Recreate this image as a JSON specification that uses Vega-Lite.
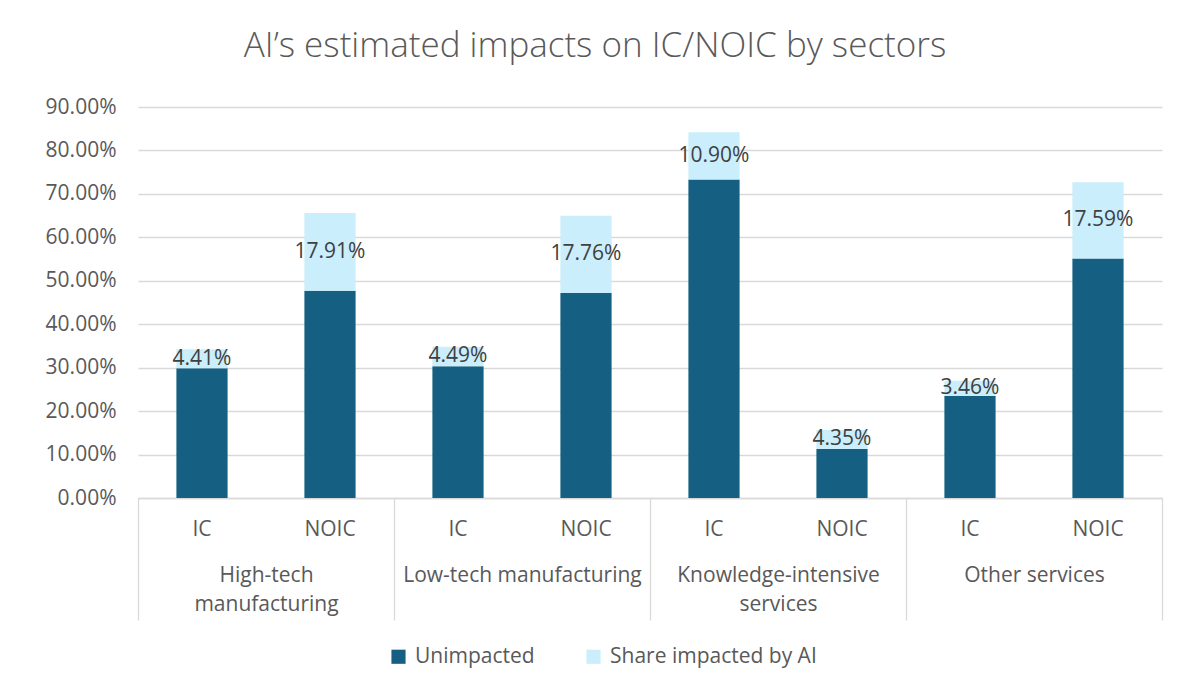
{
  "$schema": "https://vega.github.io/schema/vega-lite/v6.json",
  "width": 1024,
  "height": 391,
  "autosize": {"type": "none"},
  "padding": {"left": 138, "top": 107, "right": 18, "bottom": 190},
  "background": "white",
  "title": {
    "text": "AI’s estimated impacts on IC/NOIC by sectors",
    "font": "Open Sans",
    "fontSize": 35,
    "fontWeight": 300,
    "color": "#595959",
    "anchor": "middle",
    "offset": 32,
    "dx": -55
  },
  "config": {
    "font": "Open Sans",
    "view": {"stroke": null},
    "axis": {"labelColor": "#595959", "labelFontSize": 21, "labelFont": "Open Sans"}
  },
  "data": {
    "values": [
      {"sector": "High-tech manufacturing", "type": "IC", "bar": "High-tech manufacturing|IC", "series": "Unimpacted", "share": 0.2985},
      {"sector": "High-tech manufacturing", "type": "IC", "bar": "High-tech manufacturing|IC", "series": "Share impacted by AI", "share": 0.0441},
      {"sector": "High-tech manufacturing", "type": "NOIC", "bar": "High-tech manufacturing|NOIC", "series": "Unimpacted", "share": 0.477},
      {"sector": "High-tech manufacturing", "type": "NOIC", "bar": "High-tech manufacturing|NOIC", "series": "Share impacted by AI", "share": 0.1791},
      {"sector": "Low-tech manufacturing", "type": "IC", "bar": "Low-tech manufacturing|IC", "series": "Unimpacted", "share": 0.3035},
      {"sector": "Low-tech manufacturing", "type": "IC", "bar": "Low-tech manufacturing|IC", "series": "Share impacted by AI", "share": 0.0449},
      {"sector": "Low-tech manufacturing", "type": "NOIC", "bar": "Low-tech manufacturing|NOIC", "series": "Unimpacted", "share": 0.472},
      {"sector": "Low-tech manufacturing", "type": "NOIC", "bar": "Low-tech manufacturing|NOIC", "series": "Share impacted by AI", "share": 0.1776},
      {"sector": "Knowledge-intensive services", "type": "IC", "bar": "Knowledge-intensive services|IC", "series": "Unimpacted", "share": 0.733},
      {"sector": "Knowledge-intensive services", "type": "IC", "bar": "Knowledge-intensive services|IC", "series": "Share impacted by AI", "share": 0.109},
      {"sector": "Knowledge-intensive services", "type": "NOIC", "bar": "Knowledge-intensive services|NOIC", "series": "Unimpacted", "share": 0.113},
      {"sector": "Knowledge-intensive services", "type": "NOIC", "bar": "Knowledge-intensive services|NOIC", "series": "Share impacted by AI", "share": 0.0435},
      {"sector": "Other services", "type": "IC", "bar": "Other services|IC", "series": "Unimpacted", "share": 0.235},
      {"sector": "Other services", "type": "IC", "bar": "Other services|IC", "series": "Share impacted by AI", "share": 0.0346},
      {"sector": "Other services", "type": "NOIC", "bar": "Other services|NOIC", "series": "Unimpacted", "share": 0.551},
      {"sector": "Other services", "type": "NOIC", "bar": "Other services|NOIC", "series": "Share impacted by AI", "share": 0.1759}
    ]
  },
  "layer": [
    {
      "encoding": {
        "x": {
          "field": "bar",
          "type": "nominal",
          "sort": null,
          "scale": {"paddingInner": 0.6, "paddingOuter": 0.3},
          "axis": {
            "title": null,
            "orient": "bottom",
            "domain": false,
            "ticks": false,
            "labelAngle": 0,
            "labelPadding": 20,
            "labelExpr": "split(datum.value, '|')[1]"
          }
        }
      },
      "layer": [
        {
          "mark": {"type": "bar"},
          "encoding": {
            "y": {
              "field": "share",
              "type": "quantitative",
              "stack": "zero",
              "scale": {"domain": [0, 0.9], "nice": false},
              "axis": {
                "title": null,
                "format": ".2%",
                "values": [0, 0.1, 0.2, 0.3, 0.4, 0.5, 0.6, 0.7, 0.8, 0.9],
                "domain": false,
                "ticks": false,
                "labelPadding": 22,
                "gridColor": "#D9D9D9",
                "gridWidth": 1.3
              }
            },
            "color": {
              "field": "series",
              "type": "nominal",
              "scale": {"domain": ["Unimpacted", "Share impacted by AI"], "range": ["#156082", "#CAEEFB"]},
              "legend": {
                "title": null,
                "orient": "none",
                "legendX": 250,
                "legendY": 539,
                "direction": "horizontal",
                "symbolType": "square",
                "symbolSize": 200,
                "symbolStrokeWidth": 0,
                "labelFontSize": 21,
                "labelColor": "#595959",
                "labelFont": "Open Sans",
                "labelLimit": 400,
                "labelOffset": 6,
                "columnPadding": 48
              }
            },
            "order": {"field": "series", "sort": "descending"}
          }
        },
        {
          "transform": [
            {"stack": "share", "groupby": ["bar"], "sort": [{"field": "series", "order": "descending"}], "as": ["v0", "v1"]},
            {"filter": "datum.series === 'Share impacted by AI'"},
            {"fold": ["v0", "v1"], "as": ["edge", "pos"]},
            {"aggregate": [{"op": "mean", "field": "pos", "as": "mid"}, {"op": "max", "field": "share", "as": "label"}], "groupby": ["bar"]}
          ],
          "mark": {"type": "text", "fontSize": 21, "color": "#404040", "baseline": "middle", "font": "Open Sans"},
          "encoding": {
            "y": {"field": "mid", "type": "quantitative"},
            "text": {"field": "label", "type": "quantitative", "format": ".2%"}
          }
        }
      ]
    },
    {
      "mark": {"type": "text", "opacity": 0},
      "encoding": {
        "x": {
          "field": "sector",
          "type": "nominal",
          "sort": null,
          "scale": {"paddingInner": 0, "paddingOuter": 0},
          "axis": {
            "title": null,
            "orient": "bottom",
            "labelAngle": 0,
            "domainColor": "#D9D9D9",
            "domainWidth": 1.3,
            "tickColor": "#D9D9D9",
            "tickWidth": 1.3,
            "tickSize": 122,
            "tickBand": "extent",
            "labelPadding": -56,
            "labelLineHeight": 29,
            "labelLimit": 400,
            "labelExpr": "datum.value == 'High-tech manufacturing' ? ['High-tech', 'manufacturing'] : datum.value == 'Knowledge-intensive services' ? ['Knowledge-intensive', 'services'] : datum.value"
          }
        },
        "text": {"field": "sector"}
      }
    }
  ],
  "resolve": {"scale": {"x": "independent"}, "axis": {"x": "independent"}}
}
